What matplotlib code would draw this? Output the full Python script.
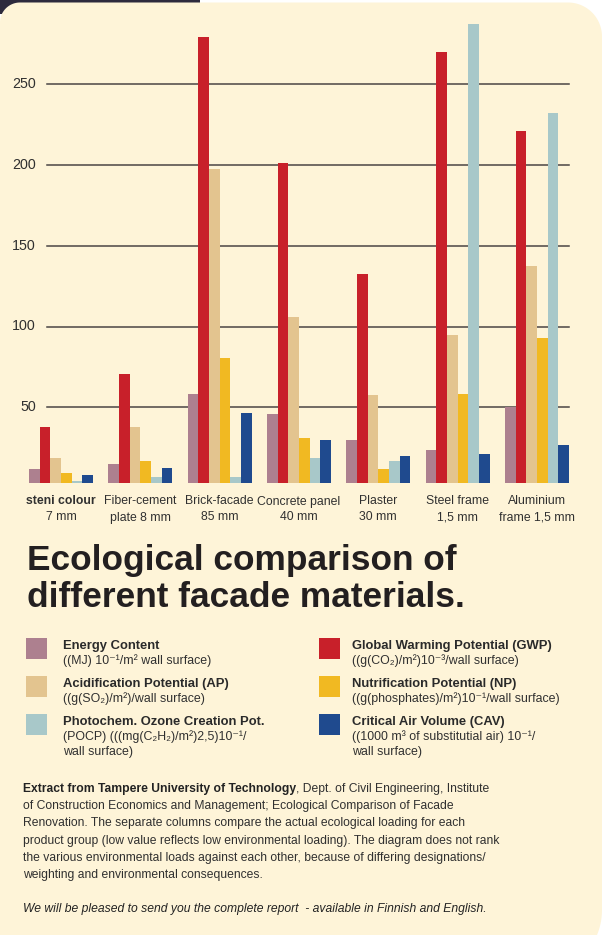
import numpy as np
import matplotlib.pyplot as plt
import matplotlib.transforms as mtransforms
from matplotlib.patches import Polygon, Rectangle

plt.rcParams['font.family'] = ['Liberation Sans', 'DejaVu Sans']

# data
materials = ['steni colour', 'Fiber-cement', 'Brick-facade', 'Concrete panel',
             'Plaster', 'Steel frame', 'Aluminium']
thickness = ['7 mm', 'plate 8 mm', '85 mm', '40 mm', '30 mm', '1,5 mm', 'frame 1,5 mm']

energy = [12, 15, 58, 46, 30, 23.5, 50]
gwp = [38, 70.5, 279, 201, 132.5, 270, 221]
acid = [18.5, 38, 197.5, 106, 57.5, 95, 137.5]
nutri = [9, 17, 80.5, 31, 12, 58, 93]
pocp = [4.5, 7, 7, 18.5, 16.5, 287, 232]
cav = [8, 12.5, 46.5, 29.5, 20, 21, 26.5]

yticks = [50, 100, 150, 200, 250]

series = [energy, gwp, acid, nutri, pocp, cav]
colors = ['#ad808f', '#c8202a', '#e3c48f', '#f1b922', '#a8c8c9', '#1f4a8e']

leg_titles = ['Energy Content', 'Acidification Potential (AP)', 'Photochem. Ozone Creation Pot.',
              'Global Warming Potential (GWP)', 'Nutrification Potential (NP)', 'Critical Air Volume (CAV)']
leg_subs = [['((MJ) 10\u207b\u00b9/m\u00b2 wall surface)'],
            ['((g(SO\u2082)/m\u00b2)/wall surface)'],
            ['(POCP) (((mg(C\u2082H\u2082)/m\u00b2)2,5)10\u207b\u00b9/', 'wall surface)'],
            ['((g(CO\u2082)/m\u00b2)10\u207b\u00b3/wall surface)'],
            ['((g(phosphates)/m\u00b2)10\u207b\u00b9/wall surface)'],
            ['((1000 m\u00b3 of substitutial air) 10\u207b\u00b9/', 'wall surface)']]
leg_colors = [colors[0], colors[2], colors[4], colors[1], colors[3], colors[5]]

note_bold = 'Extract from Tampere University of Technology'
note_lines = [', Dept. of Civil Engineering, Institute',
              'of Construction Economics and Management; Ecological Comparison of Facade',
              'Renovation. The separate columns compare the actual ecological loading for each',
              'product group (low value reflects low environmental loading). The diagram does not rank',
              'the various environmental loads against each other, because of differing designations/',
              'weighting and environmental consequences.']
note_italic = 'We will be pleased to send you the complete report  - available in Finnish and English.'

W, H = 602, 935
cream = '#fef4d8'
dark = '#2d2a3d'
txt = '#303030'


def fx(x):
    return x / W


def fy(y):
    return 1 - y / H


fig = plt.figure(figsize=(W / 100, H / 100), dpi=100, facecolor='white')

# background: dark strip top-left and cream panel with rounded corners
fig.add_artist(Rectangle((0, fy(14)), fx(200), 14 / H, transform=fig.transFigure,
                         facecolor=dark, edgecolor='none', zorder=0))


def panel(x0, y0, x1, y1, rtl, rtr, rbr):
    pts = []
    for cx, cy, r, a0, a1 in [(x0 + rtl, y0 + rtl, rtl, np.pi, 1.5 * np.pi),
                              (x1 - rtr, y0 + rtr, rtr, 1.5 * np.pi, 2 * np.pi),
                              (x1 - rbr, y1 - rbr, rbr, 0, 0.5 * np.pi)]:
        t = np.linspace(a0, a1, 30)
        pts += [(fx(cx + r * np.cos(a)), fy(cy + r * np.sin(a))) for a in t]
    pts.append((fx(x0), fy(y1)))
    return pts


fig.add_artist(Polygon(panel(0, 2.5, W, 975, 20, 34, 65), closed=True,
                       transform=fig.transFigure, facecolor=cream, edgecolor='none', zorder=0))

# chart
ax_l, ax_r, ax_t, ax_b = 20, 590, 15, 483
ax = fig.add_axes([fx(ax_l), fy(ax_b), (ax_r - ax_l) / W, (ax_b - ax_t) / H])
ax.set_facecolor('none')
for s in ax.spines.values():
    s.set_visible(False)
ax.set_xticks([])
ax.set_yticks([])

gpx = 79.33
x0px = 61
ax.set_xlim((ax_l - x0px) / gpx, (ax_r - x0px) / gpx)
ax.set_ylim((488 - ax_b) / 1.615, (488 - ax_t) / 1.615)

x = np.arange(len(materials))
w = 10.67 / gpx
for j, (vals, c) in enumerate(zip(series, colors)):
    ax.bar(x + (j - 2.5) * w, vals, w, color=c, zorder=3, linewidth=0)

for v in yticks:
    ax.axhline(v, xmin=(47 - ax_l) / (ax_r - ax_l), xmax=(569 - ax_l) / (ax_r - ax_l),
               color='#4a4544', lw=1.1, zorder=1)
    ax.text((36 - ax_l) / (ax_r - ax_l), v, str(v), transform=ax.get_yaxis_transform(),
            ha='right', va='center', fontsize=10.3, color=txt)

trans = mtransforms.blended_transform_factory(ax.transData, fig.transFigure)
for i, (m, t) in enumerate(zip(materials, thickness)):
    ax.text(i, fy(504.5), m, transform=trans, ha='center', va='baseline', fontsize=8.8,
            color=txt, fontweight='bold' if i == 0 else 'normal')
    ax.text(i, fy(520.5), t, transform=trans, ha='center', va='baseline', fontsize=8.8, color=txt)

# title
fig.text(fx(27), fy(570), 'Ecological comparison of', fontsize=25.4, fontweight='bold', color='#231f20',
         va='baseline')
fig.text(fx(27), fy(607), 'different facade materials.', fontsize=25.4, fontweight='bold',
         color='#231f20', va='baseline')

# legend
for k in range(6):
    col, row = divmod(k, 3)
    sq_x = 26 if col == 0 else 319
    tx = 63 if col == 0 else 352
    top = 638 + row * 38
    fig.add_artist(Rectangle((fx(sq_x), fy(top + 21)), 21 / W, 21 / H, transform=fig.transFigure,
                             facecolor=leg_colors[k], edgecolor='none'))
    fig.text(fx(tx), fy(top + 11), leg_titles[k], fontsize=9.4, fontweight='bold', color='#2a2a2a',
             va='baseline')
    for n, line in enumerate(leg_subs[k]):
        fig.text(fx(tx), fy(top + 26 + 15 * n), line, fontsize=8.9, color=txt, va='baseline')

# footnote
fs = 8.7
b = fig.text(fx(23), fy(792), note_bold, fontsize=fs, fontweight='bold', color='#222222', va='baseline')
fig.canvas.draw()
bb = b.get_window_extent(fig.canvas.get_renderer())
fig.text(bb.x1 / fig.bbox.width, fy(792), note_lines[0], fontsize=fs, color=txt, va='baseline')
for i, line in enumerate(note_lines[1:], start=1):
    fig.text(fx(23), fy(792 + 17.2 * i), line, fontsize=fs, color=txt, va='baseline')
fig.text(fx(23), fy(912), note_italic, fontsize=fs, fontstyle='italic', color='#222222', va='baseline')

plt.savefig('out.png', dpi=100, facecolor=fig.get_facecolor())
